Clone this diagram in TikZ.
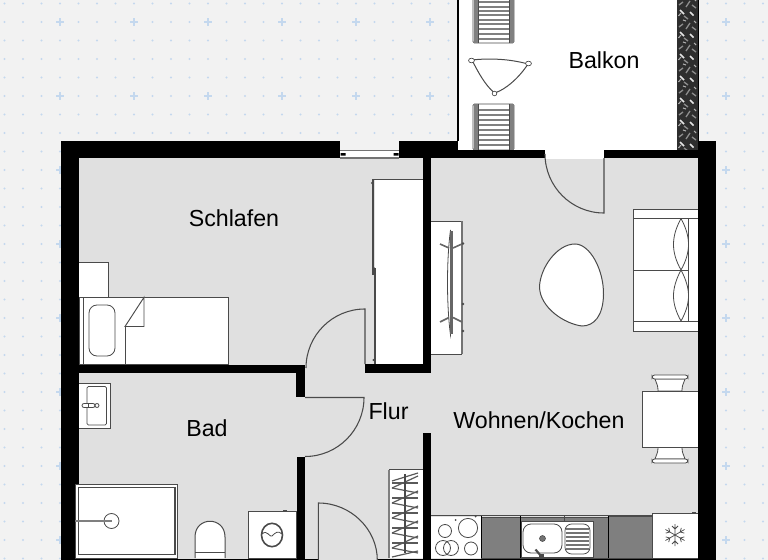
\documentclass[tikz,border=0pt]{standalone}
\usepackage{fontspec}
\setmainfont{Liberation Sans}
\definecolor{bgc}{HTML}{F2F2F2}
\definecolor{floorc}{HTML}{E0E0E0}
\definecolor{dotc}{HTML}{C4D8EE}
\definecolor{linec}{HTML}{4A4A4A}
\definecolor{cabc}{HTML}{7F7F7F}
\tikzset{
  wall/.style={fill=black,draw=none},
  furn/.style={fill=white,draw=linec,line width=0.75pt},
  thin line/.style={draw=linec,line width=0.6pt},
  doorline/.style={draw=linec,line width=0.8pt},
  cab/.style={fill=cabc,draw=linec,line width=0.6pt},
  room/.style={font=\fontsize{17.4pt}{20pt}\selectfont,text=black,inner sep=0pt},
}
\begin{document}
\begin{tikzpicture}[x=0.75pt,y=-0.75pt]
\useasboundingbox (0,0) rectangle (768,560);
\fill[bgc] (0,0) rectangle (768,560);
% grid
\foreach \i in {0,...,41}{\foreach \j in {0,...,30}{
  \fill[dotc] ({4.5+18.5*\i},{3.5+18.5*\j}) circle (1.2);
}}
\foreach \i in {0,...,9}{\foreach \j in {0,...,7}{
  \draw[dotc,line width=1.4pt] ({60+74*\i-3.8},{22+74*\j}) -- ++(7.6,0) ({60+74*\i},{22+74*\j-3.8}) -- ++(0,7.6);
}}
% floor
\fill[floorc] (61,141) rectangle (716,560);
% balcony
\fill[white] (458,0) rectangle (699,151);
\fill[black] (457,0) rectangle (458.6,141);
\fill[black!82] (677,0) rectangle (698,150);
\foreach \k in {0,...,6}{
  \begin{scope}[shift={(0,{22*\k-4})}]
    \draw[white!90!black,line width=1.1pt] (680,14) -- (684,18) (690,16) -- (693.5,19.5);
    \draw[black!45,line width=1pt] (679,9) -- (683,6) (686,11) -- (690,5) (692,9) -- (696,12) (684,20) -- (688,23);
    \draw[white!70!black,line width=0.8pt] (678.5,20) -- (681,17) (694,3) -- (696,5) (683,2) -- (686,3);
  \end{scope}
}
\fill[black] (698,0) rectangle (699.4,141);
\fill[white] (545,150) rectangle (604,159);
% loungers
\foreach \ya/\yb in {-4/43,104/150}{
  \fill[white,draw=linec,line width=0.6pt,rounded corners=1pt] (473,\ya) rectangle (514,\yb);
  \fill[black!50] (473.5,\ya) rectangle (478,\yb);
  \fill[black!50] (509.5,\ya) rectangle (513.5,\yb);
  \draw[thin line] (478.5,\ya) -- (478.5,\yb) (509,\ya) -- (509,\yb);
}
\foreach \yy in {2,7,11,15,20,24,29,34,39}{\draw[black!50,line width=0.9pt] (478.5,\yy) -- (509,\yy);}
\foreach \yy in {110,115,120,125,130,135,140,145}{\draw[black!50,line width=0.9pt] (478.5,\yy) -- (509,\yy);}
% balcony table
\draw[furn] (472,60) .. controls (490,58) and (510,59) .. (528,64)
  .. controls (519,78) and (505,90) .. (494.5,93)
  .. controls (485,85) and (478,72) .. (472,60) -- cycle;
\draw[furn,line width=0.5pt] (471.5,60.5) ellipse (3 and 2.3);
\draw[furn,line width=0.5pt] (528.5,63.5) ellipse (3 and 2.3);
\draw[furn,line width=0.5pt] (494.5,93.5) circle (2.3);
% window
\fill[bgc] (340,141) rectangle (399,150);
\fill[white] (340,150) rectangle (399,158);
\draw[draw=black!55,line width=1.1pt] (340,150.7) -- (399,150.7) (340,158) -- (399,158);
% wardrobe
\fill[white] (375,179) rectangle (423,364);
\draw[thin line] (373,179) -- (423,179);
\draw[draw=linec,line width=1.1pt] (373.2,179) -- (373.2,275);
\draw[draw=linec,line width=1.1pt] (375,268) -- (375,364);
\fill[linec] (372,183) circle (1.2) (374.5,268.5) circle (1.2) (373.5,360) circle (1.2);
% coat rack
\fill[white] (431,221) rectangle (462,354);
\draw[thin line] (431,221) -- (462,221) (431,354) -- (462,354);
\draw[draw=black!55,line width=1.3pt] (462,221) -- (462,354);
\draw[draw=linec,line width=0.6pt] (450.5,230) .. controls (446.5,260) and (446.5,305) .. (450.5,335)
   .. controls (453,305) and (453,260) .. (450.5,230);
\draw[draw=black!60,line width=1.6pt] (451.5,231) -- (451.5,334);
\draw[draw=black!60,line width=1.2pt] (440,244) -- (449,248) (453,248) -- (463,243.5)
   (440,322) -- (449,317.5) (453,317.5) -- (462,322);
\fill[linec] (463,243.5) circle (1.4) (463,304) circle (1.4) (463,331) circle (1.4);
% nightstand and bed
\draw[furn] (79,262) -- (108,262) -- (108,297) -- (79,297);
\draw[furn] (79,297) rectangle (228,364);
\draw[thin line] (83.3,297) -- (83.3,364);
\draw[thin line,rounded corners=6pt] (89,305) rectangle (115,356);
\draw[thin line] (125,364) -- (125,326.5);
\fill[white,draw=linec,line width=0.7pt] (125,326.5) -- (144,297.3) -- (144,326.5) -- cycle;
% bath sink
\draw[furn] (79,383) -- (110,383) -- (110,428) -- (79,428);
\draw[thin line,rounded corners=1pt] (87,386.5) rectangle (106.5,425);
\draw[thin line,fill=white,rounded corners=1.5pt] (82,403.5) rectangle (95,407.5);
\draw[thin line,fill=white] (97,405.5) circle (2);
\draw[thin line] (88,403.5) -- (88,407.5);
% washer
\draw[furn] (248,511.5) -- (296,511.5) -- (296,558) -- (248,558) -- cycle;
\draw[draw=linec,line width=1.2pt] (272,535) ellipse (10.5 and 11.7);
\draw[draw=linec,line width=0.6pt] (262,534) .. controls (267,529) and (270,538) .. (272,536) .. controls (275,533) and (278,530) .. (282,534);
\fill[linec] (283,510) rectangle (287,512);
% toilet
\draw[furn] (195,558) -- (195,537) .. controls (195,516) and (225,516) .. (225,537) -- (225,558);
\draw[thin line] (195,552) -- (225,552);
% shoe rack
\fill[white] (389,469) rectangle (423,558);
\draw[thin line] (389,469.5) -- (423,469.5);
\draw[draw=cabc,line width=2pt] (389,469.5) -- (389,558);
\foreach \yy in {483,498,513,528,543}{
  \draw[draw=black!65,line width=0.9pt] (392,\yy) -- (418,\yy);
  \draw[draw=black!65,line width=0.9pt] (392,\yy+5) -- (418,\yy-7);
  \draw[draw=black!65,line width=0.9pt] (392,\yy+5) -- (418,\yy+10);
}
\draw[draw=black!65,line width=0.9pt] (392,481) -- (418,473) (392,557) -- (418,551);
\draw[draw=linec,line width=0.8pt] (405,474) -- (405,553);
% kitchen
\fill[white] (431,517) rectangle (481.5,558);
\draw[draw=linec,line width=1.1pt] (431,515.5) -- (698,515.5);
\fill[cab] (481.5,517) rectangle (520,558);
\fill[cab] (520,517) rectangle (608.5,558);
\fill[cab] (608.5,516) rectangle (652.7,558);
\draw[thin line,black] (481.5,516) -- (481.5,558) (520,516) -- (520,558) (608.5,516) -- (608.5,558);
\draw[thin line] (445,531) circle (6.5) (468,528) circle (9.6) (443,548) circle (7.5) (451,548) circle (7.5) (471,548.5) circle (6.5);
\fill[linec] (455.5,520) circle (1) (475.5,516.5) circle (1);
% sink
\draw[furn,line width=0.5pt] (521,521.5) rectangle (593,557);
\draw[thin line,rounded corners=6pt] (523,524) rectangle (562,553);
\fill[black!55,draw=linec,line width=0.4pt] (542.5,538.5) circle (3);
\draw[thin line,rounded corners=5pt] (565,524) rectangle (590,554);
\foreach \yy in {529,533,537,541,545,549}{\draw[draw=black!55,line width=0.9pt] (566,\yy) -- (589,\yy);}
\draw[draw=linec,line width=1.6pt] (535.5,549.5) -- (541,556);
\fill[linec] (539,554) rectangle (544,558);
\draw[thin line] (564,515.5) -- (564,521);
% fridge
\fill[white,draw=linec,line width=0.6pt] (652.7,513) rectangle (698,558);
\begin{scope}[shift={(675,535)}]
\foreach \a in {0,60,120,180,240,300}{
  \begin{scope}[rotate=\a+30]
    \draw[draw=linec,line width=0.55pt] (0,0) -- (11,0) (6,0) -- (9,3) (6,0) -- (9,-3);
  \end{scope}}
\end{scope}
\fill[linec] (692,512) rectangle (696,514);
% sofa
\draw[furn] (698,209) -- (633.3,209) -- (633.3,331) -- (698,331);
\draw[thin line] (633.3,218.5) -- (698,218.5) (633.3,321) -- (698,321) (633.3,270) -- (688,270) (688,218.5) -- (688,321);
\draw[thin line] (681,218.5) .. controls (671,237) and (671,252) .. (681,270) .. controls (691,252) and (691,237) .. (681,218.5);
\draw[thin line] (681,270) .. controls (671,289) and (671,303) .. (681,321) .. controls (691,303) and (691,289) .. (681,270);
% coffee table
\draw[furn] (575,244) .. controls (590,244) and (604,270) .. (603.5,295)
  .. controls (603,316) and (594,326) .. (582,326)
  .. controls (565,324) and (540,308) .. (539.5,287)
  .. controls (540,268) and (557,244) .. (575,244) -- cycle;
% dining set
\foreach \ya/\yb/\yc/\yd in {391/385/379/375,447/453/459/463}{
  \draw[furn,line width=0.6pt] (658,\ya) .. controls (658,\yb) and (657,\yb) .. (655,\yc) -- (685,\yc) .. controls (683,\yb) and (682,\yb) .. (682,\ya) -- cycle;
  \draw[furn,line width=0.6pt,rounded corners=2pt] (652,\yc) rectangle (688,\yd);
}
\draw[furn] (642,391) rectangle (698,447);
% walls
\fill[wall] (61,141) rectangle (340,158);
\fill[wall] (399,141) rectangle (458,158);
\fill[wall] (458,150) rectangle (545,158);
\fill[wall] (604,150) rectangle (699,158);
\fill[wall] (698,141) rectangle (716,560);
\fill[wall] (61,141) rectangle (79,560);
\fill[wall] (423,158) rectangle (431,372.5);
\fill[wall] (365.3,364) rectangle (431,372.5);
\fill[wall] (79,364.5) rectangle (305,373);
\fill[wall] (296.3,373) rectangle (305,397);
\fill[wall] (296.7,457) rectangle (305,560);
\fill[wall] (423,432.5) rectangle (431,560);
\fill[wall] (79,558.5) rectangle (318,560);
\fill[wall] (377,558.5) rectangle (698,560);
\fill[black] (340.5,153) rectangle (345.5,155.5) (393.5,153) rectangle (398.5,155.5);
% shower overlapping the wall
\fill[white,draw=linec,line width=0.7pt] (75.3,484) rectangle (177.7,558);
\draw[draw=linec,line width=1pt] (78.5,487.5) rectangle (175,554.5);
\draw[thin line] (111.5,521) circle (7.5);
\draw[draw=cabc,line width=1.2pt] (75.3,521) -- (111.5,521);
% doors
\draw[doorline] (365,364) -- (365,309) .. controls (332.4,309) and (306,335.4) .. (306,368);
\draw[doorline] (305,397.5) -- (364,397.5) .. controls (364,430) and (337.6,456.5) .. (305,456.5);
\draw[doorline] (318.3,560) -- (318.3,503) .. controls (350.9,503) and (377.3,529.4) .. (377.3,560);
\draw[doorline] (604,158) -- (604,213) .. controls (571.4,213) and (545,186.4) .. (545,154);
% labels
\node[room] (balkon) at (604,60.5) {Balkon};
\node[room] (schlafen) at (234,218) {Schlafen};
\node[room] (bad) at (207,428) {Bad};
\node[room] (flur) at (388.5,411) {Flur};
\node[room] (wohnen) at (539,420.5) {Wohnen/Kochen};
\end{tikzpicture}
\end{document}
